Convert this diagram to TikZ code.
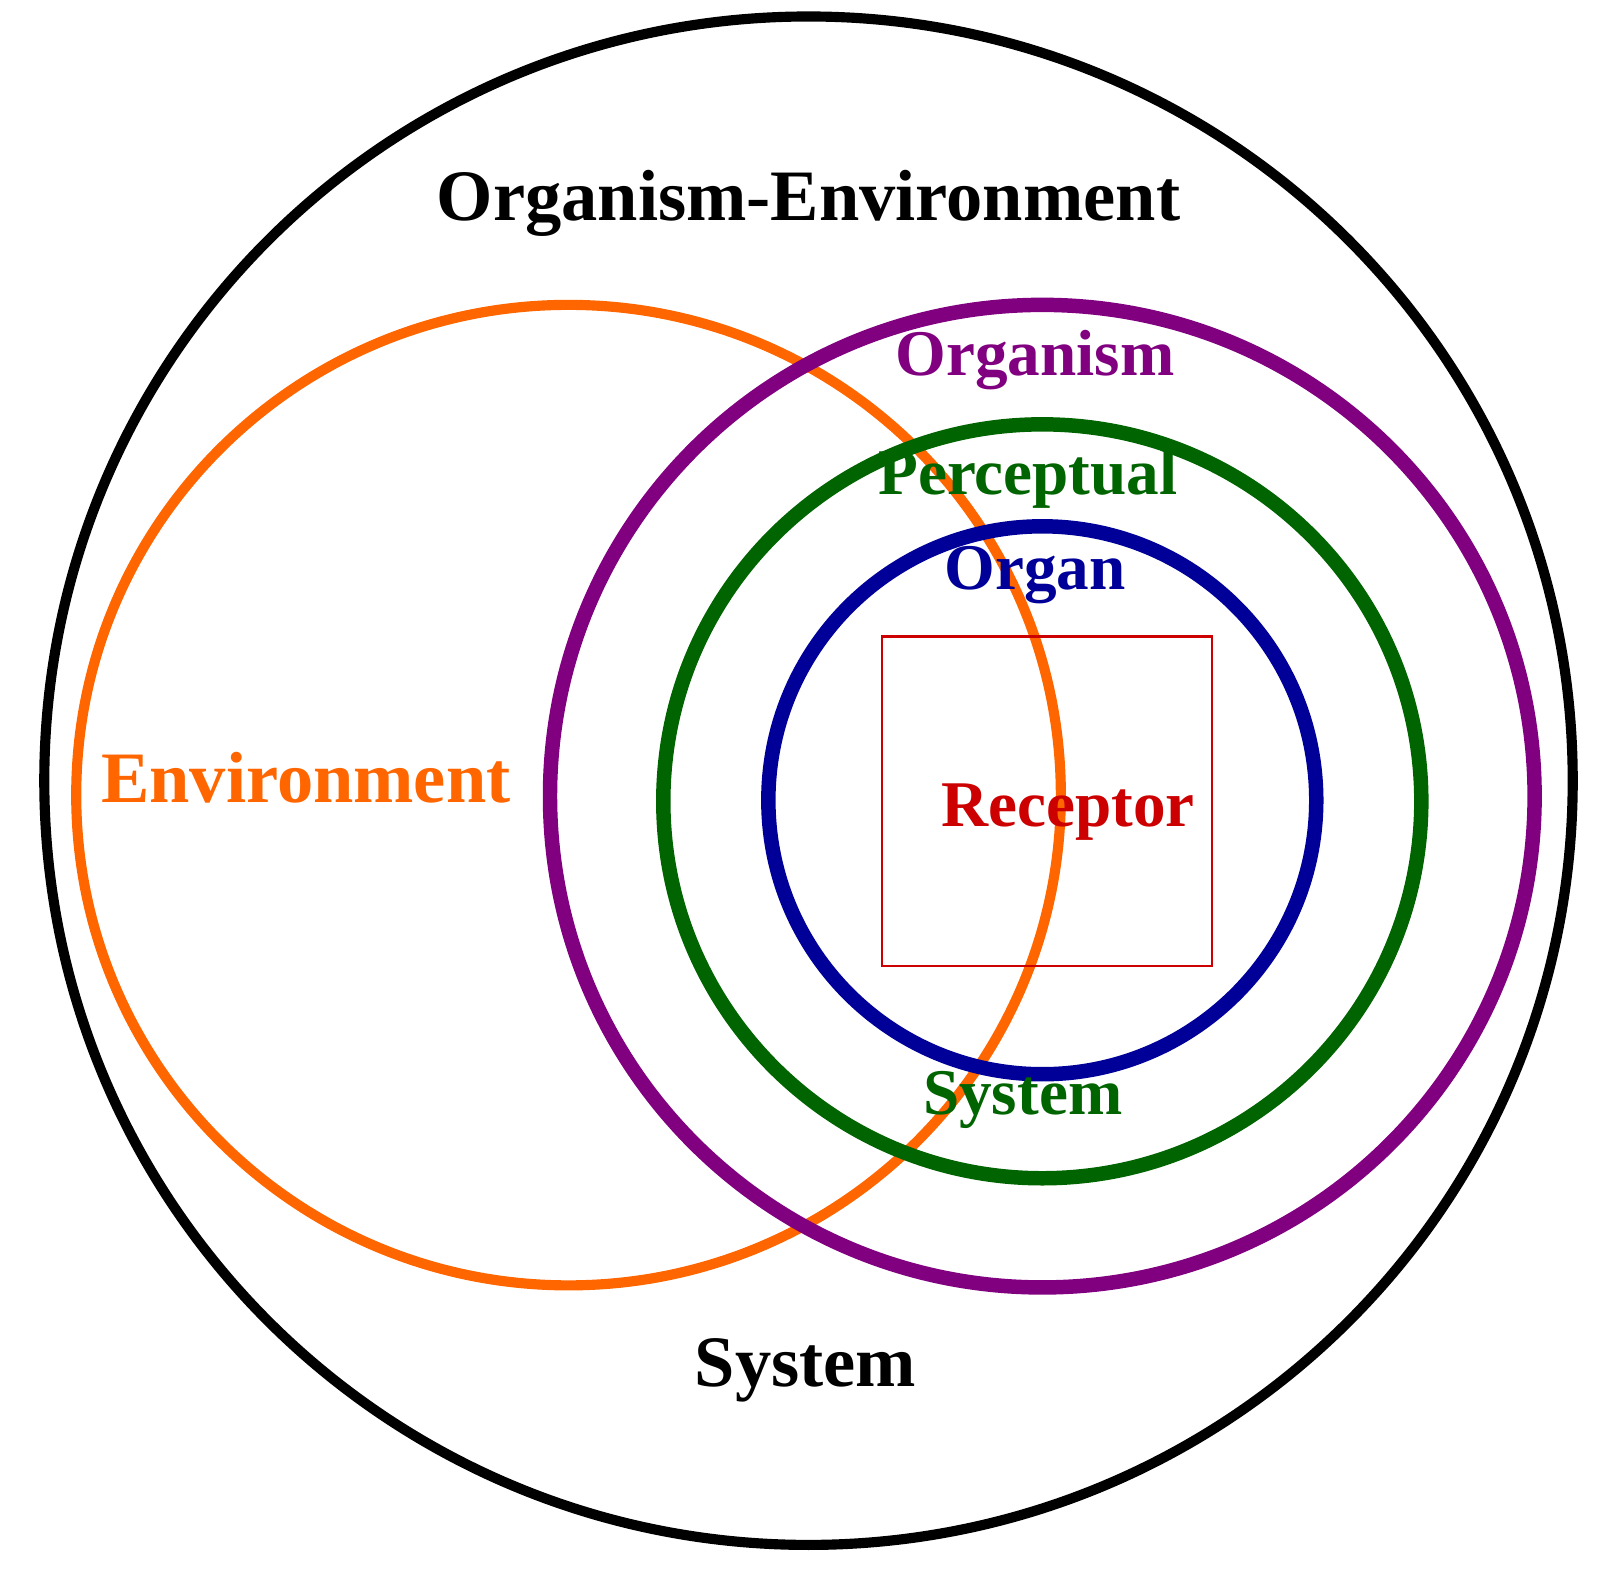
\documentclass[tikz,border=0pt]{standalone}
\usepackage{fontspec}
\setmainfont{Liberation Serif}
\usepackage{tikz}
\usetikzlibrary{positioning}
\definecolor{envorange}{HTML}{FF6600}
\definecolor{orgpurple}{HTML}{800080}
\definecolor{percgreen}{HTML}{006400}
\definecolor{organblue}{HTML}{000099}
\definecolor{recred}{HTML}{CC0000}
\tikzset{
  big/.style={font=\fontsize{20}{24}\selectfont\bfseries},
  small/.style={font=\fontsize{18}{22}\selectfont\bfseries},
  ring/.style={line width=4pt}
}
\begin{document}
\begin{tikzpicture}[x=0.01cm,y=-0.01cm]
				\useasboundingbox (0,0) rectangle (1570,1524);
				\draw[line width=2.8pt] (785,758) ellipse (742 and 742);
				\draw[line width=2.8pt, envorange] (552,772) ellipse (478 and 476);
				\draw[ring, orgpurple] (1012,773) ellipse (478 and 477);
				\draw[ring, percgreen] (1012,778) ellipse (368 and 366);
				\draw[ring, organblue] (1012,777) ellipse (266 and 266);
				\draw[line width=0.6pt, recred] (856,618) rectangle (1177,938);
				
				\node[big] (OE) at (785,197) {Organism-Environment};
				\node[big] (OES) at (782,1330) {System};
				\node[big, envorange] (Env) at (297,755) {Environment};
				\node[small, orgpurple] (Org) at (1005,350) {Organism};
				\node[small, percgreen] (Perc) at (998,465) {Perceptual};
				\node[small, organblue] (Organ) at (1005,558) {Organ};
				\node[small, recred] (Rec) at (1037,788) {Receptor};
				\node[small, percgreen] (PercS) at (993,1068) {System};
			\end{tikzpicture}
\end{document}
